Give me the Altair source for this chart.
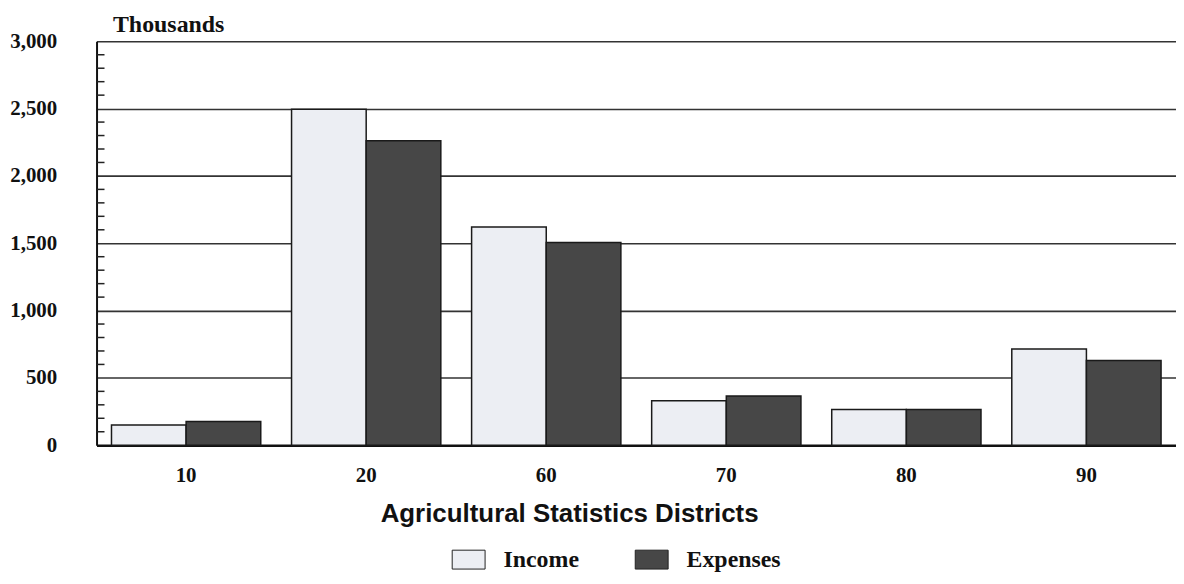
import altair as alt
import pandas as pd

districts = ["10", "20", "60", "70", "80", "90"]
income = [150, 2495, 1620, 330, 265, 715]
expenses = [176, 2262, 1505, 365, 265, 630]
series = ["Income", "Expenses"]
y_ticks = [0, 500, 1000, 1500, 2000, 2500, 3000]
minor_ticks = [v for v in range(100, 3000, 100) if v % 500 != 0]

rows = []
for d, i, e in zip(districts, income, expenses):
    rows.append({"district": d, "series": "Income", "value": i})
    rows.append({"district": d, "series": "Expenses", "value": e})
df = pd.DataFrame(rows)
ticks_df = pd.DataFrame({"v": minor_ticks})

SERIF = "Liberation Serif"
SANS = "Liberation Sans"

y_scale = alt.Scale(domain=[0, 3000], nice=False, zero=True)

bars = alt.Chart(df).mark_bar(stroke="#1a1a1a", strokeWidth=1.5).encode(
    x=alt.X(
        "district:N",
        sort=districts,
        scale=alt.Scale(paddingInner=0.171, paddingOuter=0.083),
        axis=alt.Axis(
            title="Agricultural Statistics Districts",
            titleFont=SANS,
            titleFontSize=26,
            titleFontWeight="bold",
            titleColor="#111111",
            titleX=475,
            titleY=77,
            titleAlign="center",
            titleBaseline="alphabetic",
            labelFont=SERIF,
            labelFontSize=21,
            labelFontWeight="bold",
            labelColor="#111111",
            labelAngle=0,
            labelPadding=19,
            ticks=False,
            tickSize=0,
            domainColor="#111111",
            domainWidth=2.5,
            grid=False,
        ),
    ),
    xOffset=alt.XOffset("series:N", sort=series),
    y=alt.Y(
        "value:Q",
        scale=y_scale,
        axis=alt.Axis(
            title="Thousands",
            titleFont=SERIF,
            titleFontSize=24,
            titleFontWeight="bold",
            titleColor="#111111",
            titleAngle=0,
            titleAlign="left",
            titleBaseline="alphabetic",
            titleX=16,
            titleY=-10,
            values=y_ticks,
            format=",d",
            labelFont=SERIF,
            labelFontSize=21,
            labelFontWeight="bold",
            labelColor="#111111",
            labelPadding=40,
            labelBaseline="middle",
            ticks=False,
            tickSize=0,
            domainColor="#111111",
            domainWidth=2,
            grid=True,
            gridColor="#333333",
            gridWidth=1.6,
        ),
    ),
    color=alt.Color(
        "series:N",
        sort=series,
        scale=alt.Scale(domain=series, range=["#eceef3", "#474747"]),
        legend=alt.Legend(
            title=None,
            orient="none",
            direction="horizontal",
            legendX=362,
            legendY=509,
            padding=0,
            symbolType="M-1.74,-1H1.74V1H-1.74Z",
            symbolSize=361,
            symbolStrokeColor="#222222",
            symbolStrokeWidth=1,
            symbolOpacity=1,
            labelFont=SERIF,
            labelFontSize=24,
            labelFontWeight="bold",
            labelColor="#111111",
            labelOffset=23,
            columnPadding=54,
        ),
    ),
)

minor = alt.Chart(ticks_df).mark_rule(color="#222222", strokeWidth=1.5).encode(
    y=alt.Y("v:Q", scale=y_scale),
    x=alt.value(0),
    x2=alt.value(8),
)

chart = alt.layer(bars, minor).properties(
    width=1085,
    height=406,
    autosize=alt.AutoSizeParams(type="none"),
    padding={"left": 89, "top": 32, "right": 0, "bottom": 130},
    background="white",
).configure_view(stroke=None)

chart.save("out.html", embed_options={"renderer": "svg", "actions": False})
